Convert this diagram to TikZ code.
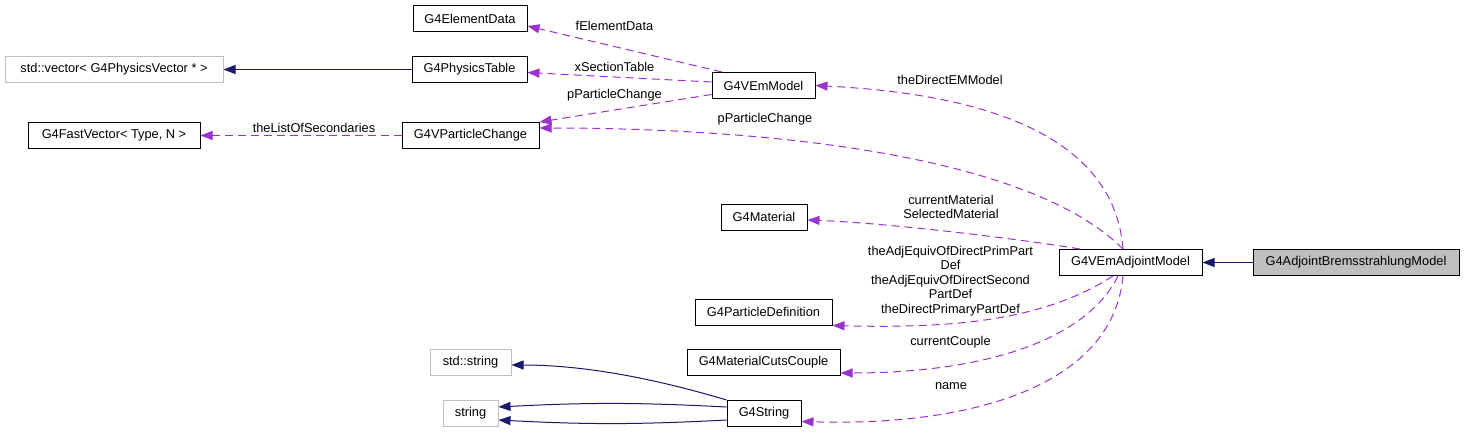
\documentclass[tikz,border=0pt]{standalone}
\usepackage{fontspec}
\setmainfont{Liberation Sans}
\usetikzlibrary{arrows.meta}
\definecolor{edgenavy}{HTML}{191970}
\definecolor{edgepurple}{HTML}{9A32CD}
\definecolor{boxgray}{HTML}{BFBFBF}

\begin{document}
\begin{tikzpicture}[x=1pt, y=-1pt, font=\fontsize{12.8}{14.5}\selectfont,
    classbox/.style={draw=black, line width=1pt, minimum height=26pt, inner sep=0pt},
    extbox/.style={classbox, draw=boxgray},
    inherit/.style={draw=edgenavy, line width=1pt, -{Triangle[length=12pt,width=9pt]}},
    usage/.style={draw=edgepurple, line width=1pt, dash pattern=on 8pt off 5pt, -{Triangle[length=12pt,width=9pt]}},
    lbl/.style={inner sep=0pt, align=center}]

    \useasboundingbox (0,0) rectangle (1464,432);

    % Class boxes: name/x/y/width/text
    \foreach \name/\x/\y/\w/\txt in {elemdata/470/18.5/114/G4ElementData,
        phystable/469.5/69.5/115/G4PhysicsTable,
        emmodel/763.5/85.5/103/G4VEmModel,
        fastvec/114/135.5/172/{G4FastVector< Type, N >},
        vpchange/470.5/135.5/137/G4VParticleChange,
        material/764/217/86/G4Material,
        adjmodel/1130.5/262.5/143/G4VEmAdjointModel,
        partdef/763.5/312/137/G4ParticleDefinition,
        cutscouple/763.5/362.5/153/G4MaterialCutsCouple,
        g4string/764/413.5/74/G4String} {
        \node[classbox, minimum width=\w pt] (\name) at (\x,\y) {\txt};
    }
    % Boxes of external classes (gray border)
    \node[extbox, minimum width=218pt] (stdvec) at (114,69.5) {std::vector< G4PhysicsVector * >};
    \node[extbox, minimum width=81pt] (stdstring) at (470.5,362) {std::string};
    \node[extbox, minimum width=55pt] (string) at (470.5,413.5) {string};
    % The documented class
    \node[classbox, fill=boxgray, minimum width=206pt] (brems) at (1356,262.5) {G4AdjointBremsstrahlungModel};

    % Inheritance
    \draw[inherit] (phystable.west) -- (stdvec.east);
    \draw[inherit] (brems.west) -- (adjmodel.east);
    \draw[inherit] (g4string.north west) .. controls +(-60,-18) and +(80,0) .. ([yshift=-3pt]stdstring.east);
    \draw[inherit] ([yshift=6.5pt]g4string.west) to[bend right=3] ([yshift=6.5pt]string.east);
    \draw[inherit] ([yshift=-6.5pt]g4string.west) to[bend left=3] ([yshift=-6.5pt]string.east);

    % Usage
    \draw[usage] ([xshift=-41.5pt]emmodel.north) -- ([yshift=-7.5pt]elemdata.east);
    \draw[usage] ([yshift=3.5pt]emmodel.west) -- ([yshift=-3pt]phystable.east);
    \draw[usage] ([yshift=-9pt]emmodel.west) -- (vpchange.north east);
    \draw[usage] (vpchange.west) -- (fastvec.east);
    \draw[usage] ([xshift=-7.5pt]adjmodel.north) .. controls +(-10,-127) and +(137,7) .. (emmodel.east);
    \draw[usage] ([xshift=-7.5pt]adjmodel.north) .. controls +(-100,-100) and +(200,0) .. ([yshift=7.5pt]vpchange.east);
    \draw[usage] ([xshift=-50.5pt]adjmodel.north) .. controls +(-60,-10) and +(80,3) .. ([yshift=-3pt]material.east);
    \draw[usage] ([xshift=-17.5pt]adjmodel.south) .. controls +(-70,45) and +(120,3) .. (partdef.south east);
    \draw[usage] ([xshift=-12.5pt]adjmodel.south) .. controls +(-35,70) and +(130,0) .. ([yshift=-10.5pt]cutscouple.east);
    \draw[usage] ([xshift=-7.5pt]adjmodel.south) .. controls +(-10,110) and +(170,5) .. ([yshift=-8pt]g4string.east);

    % Edge labels
    \node[lbl] (lblelem) at (614.5,26) {fElementData};
    \node[lbl] (lblxsec) at (614.5,66.5) {xSectionTable};
    \node[lbl] (lblchange) at (614.5,95.5) {pParticleChange};
    \node[lbl] (lblsecond) at (314,127.5) {theListOfSecondaries};
    \node[lbl] (lbldirect) at (950,79.5) {theDirectEMModel};
    \node[lbl] (lblchangeadj) at (765,119.5) {pParticleChange};
    \node[lbl] (lblmaterial) at (951,207) {currentMaterial\\SelectedMaterial};
    \node[lbl] (lblpartdef) at (950.5,281) {theAdjEquivOfDirectPrimPart\\Def\\theAdjEquivOfDirectSecond\\PartDef\\theDirectPrimaryPartDef};
    \node[lbl] (lblcouple) at (950.5,342.5) {currentCouple};
    \node[lbl] (lblname) at (951,386.5) {name};
\end{tikzpicture}
\end{document}
